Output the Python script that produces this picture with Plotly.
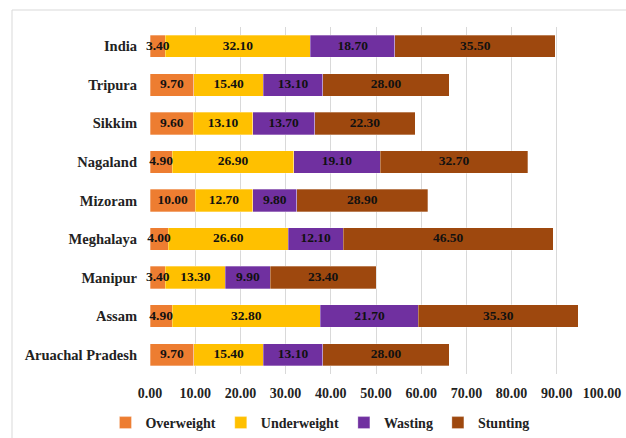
import plotly.graph_objects as go

states = ["Aruachal Pradesh", "Assam", "Manipur", "Meghalaya", "Mizoram",
          "Nagaland", "Sikkim", "Tripura", "India"]
overweight = [9.70, 4.90, 3.40, 4.00, 10.00, 4.90, 9.60, 9.70, 3.40]
underweight = [15.40, 32.80, 13.30, 26.60, 12.70, 26.90, 13.10, 15.40, 32.10]
wasting = [13.10, 21.70, 9.90, 12.10, 9.80, 19.10, 13.70, 13.10, 18.70]
stunting = [28.00, 35.30, 23.40, 46.50, 28.90, 32.70, 22.30, 28.00, 35.50]
x_ticks = [0, 10, 20, 30, 40, 50, 60, 70, 80, 90, 100]

series = [("Overweight", overweight, "#ED7D31"),
          ("Underweight", underweight, "#FFC000"),
          ("Wasting", wasting, "#7030A0"),
          ("Stunting", stunting, "#9E480E")]

FONT = "Liberation Serif"
fig = go.Figure()
for name, vals, color in series:
    fig.add_trace(go.Bar(
        y=states, x=vals, name=name, orientation="h",
        marker=dict(color=color, line=dict(color="rgba(255,255,255,0.6)", width=0.5)),
        hoverinfo="x+name",
    ))

# data labels drawn on top of all bars, centred in each segment
base = [0.0] * len(states)
for name, vals, color in series:
    mids = [b + v / 2 for b, v in zip(base, vals)]
    fig.add_trace(go.Scatter(
        y=states, x=mids, mode="text", text=[f"{v:.2f}" for v in vals],
        textposition="middle center", showlegend=False, hoverinfo="skip",
        textfont=dict(family=FONT, size=13.5, color="#111", weight="bold"),
        cliponaxis=False,
    ))
    base = [b + v for b, v in zip(base, vals)]

fig.update_layout(
    barmode="stack", bargap=0.42,
    width=626, height=438,
    margin=dict(l=150, r=24, t=27, b=64, autoexpand=False),
    paper_bgcolor="white", plot_bgcolor="white",
    font=dict(family=FONT, size=14, color="#222", weight="bold"),
    xaxis=dict(range=[0, 100], tickvals=x_ticks,
               ticktext=[f"{v:.2f}" for v in x_ticks],
               showgrid=True, gridcolor="#d9d9d9", gridwidth=1,
               zeroline=False, showline=False, ticks="",
               ticklabelstandoff=9, automargin=False,
               tickfont=dict(family=FONT, size=14, color="#222", weight="bold")),
    yaxis=dict(showgrid=False, showline=False, ticks="", ticklabelstandoff=12,
               automargin=False,
               tickfont=dict(family=FONT, size=14.5, color="#222", weight="bold")),
    legend=dict(orientation="h", xref="paper", x=0.376, xanchor="center",
                yref="container", y=1 - 423 / 438, yanchor="middle",
                font=dict(family=FONT, size=14, color="#222", weight="bold"),
                itemwidth=30, traceorder="normal"),
    shapes=[dict(type="rect", xref="paper", yref="paper",
                 x0=-138/452, x1=1.2, y0=-0.3, y1=1 + 17/347,
                 line=dict(color="#d9d9d9", width=1), fillcolor="rgba(0,0,0,0)",
                 layer="below")],
)
fig.write_html("out.html")
